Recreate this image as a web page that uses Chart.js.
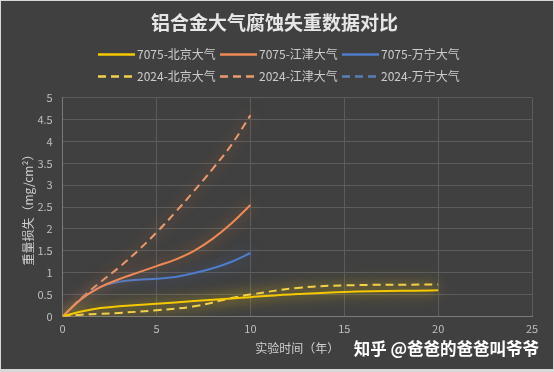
<!DOCTYPE html>
<html lang="zh">
<head>
<meta charset="UTF-8">
<title>铝合金大气腐蚀失重数据对比</title>
<script src="https://cdn.jsdelivr.net/npm/chart.js"></script>
<style>
  html, body { margin: 0; padding: 0; background: #d8d8d8; }
  #box { position: absolute; left: 1px; top: 1px; width: 552px; height: 368px; background: #404040; }
</style>
</head>
<body>
<div id="box"><canvas id="chart"></canvas></div>
<script>
// years and weight loss (mg/cm2)
const yearsBJ = [0, 1, 2, 3, 5, 7, 9, 10, 12.5, 15, 20];
const bj7075 = [0, 0.11, 0.19, 0.23, 0.29, 0.35, 0.41, 0.44, 0.51, 0.56, 0.6];
const bj2024 = [0, 0.04, 0.06, 0.08, 0.14, 0.23, 0.42, 0.5, 0.65, 0.71, 0.73];

const years10 = [0, 1, 2, 3, 4, 5, 6, 7, 8, 9, 10];
const jj7075 = [0, 0.4, 0.67, 0.85, 1.0, 1.15, 1.3, 1.5, 1.78, 2.13, 2.55];
const jj2024 = [0, 0.42, 0.78, 1.12, 1.5, 1.92, 2.38, 2.87, 3.38, 3.93, 4.6];
const wn7075 = [0, 0.4, 0.67, 0.79, 0.84, 0.86, 0.9, 0.99, 1.1, 1.25, 1.45];
const wn2024 = [];

const xTicks = [0, 5, 10, 15, 20, 25];

const pts = (xs, ys) => ys.map((y, i) => ({ x: xs[i], y: y }));
const FONT = '"Noto Sans CJK SC", "Noto Sans", sans-serif';

function line(label, xs, ys, color, glow, dashed) {
  return {
    label: label,
    data: pts(xs, ys),
    borderColor: color,
    backgroundColor: color,
    borderWidth: 2,
    borderDash: dashed ? [8, 5] : [],
    pointRadius: 0,
    tension: 0.4,
    glow: glow
  };
}

// soft glow around each line
const glowPlugin = {
  id: 'glow',
  beforeDatasetDraw(chart, args) {
    const ds = chart.data.datasets[args.index];
    chart.ctx.save();
    chart.ctx.shadowColor = ds.glow;
    chart.ctx.shadowBlur = 14;
  },
  afterDatasetDraw(chart) {
    chart.ctx.restore();
  }
};

// two-row legend, three items per row, plus watermark
const legendPlugin = {
  id: 'legend3',
  afterDraw(chart) {
    const ctx = chart.ctx;
    ctx.save();
    chart.data.datasets.forEach((ds, i) => {
      const x = 97 + (i % 3) * 122;
      const y = 53.5 + Math.floor(i / 3) * 22;
      ctx.strokeStyle = ds.borderColor;
      ctx.lineWidth = 2.5;
      ctx.setLineDash(ds.borderDash.length ? [8, 5] : []);
      ctx.beginPath();
      ctx.moveTo(x, y);
      ctx.lineTo(x + 37, y);
      ctx.stroke();
      ctx.setLineDash([]);
      ctx.fillStyle = '#cccccc';
      ctx.font = '12px ' + FONT;
      ctx.textBaseline = 'middle';
      ctx.textAlign = 'left';
      ctx.fillText(ds.label, x + 39, y);
    });
    ctx.font = 'bold 16.5px ' + FONT;
    ctx.fillStyle = '#ffffff';
    ctx.textAlign = 'right';
    ctx.textBaseline = 'middle';
    ctx.fillText('知乎 @爸爸的爸爸叫爷爷', 538, 348);
    ctx.restore();
  }
};

new Chart(document.getElementById('chart'), {
  type: 'line',
  data: {
    datasets: [
      line('7075-北京大气', yearsBJ, bj7075, '#f5c800', 'rgba(255,215,0,0.9)', false),
      line('7075-江津大气', years10, jj7075, '#ee8a55', 'rgba(237,125,49,0.7)', false),
      line('7075-万宁大气', years10, wn7075, '#4f7ccc', 'rgba(68,114,196,0.7)', false),
      line('2024-北京大气', yearsBJ, bj2024, '#f3d050', 'rgba(255,215,0,0.9)', true),
      line('2024-江津大气', years10, jj2024, '#e99a6e', 'rgba(237,125,49,0.7)', true),
      line('2024-万宁大气', years10, wn2024, '#5a7fb8', 'rgba(68,114,196,0.7)', true)
    ]
  },
  options: {
    responsive: true,
    maintainAspectRatio: false,
    animation: false,
    layout: { padding: { left: 16, right: 21, top: 0, bottom: 9 } },
    plugins: {
      legend: { display: false },
      tooltip: { enabled: false },
      title: {
        display: true,
        text: '铝合金大气腐蚀失重数据对比',
        color: '#e6e6e6',
        font: { family: FONT, size: 19, weight: 'bold' },
        padding: { top: 10, bottom: 64 }
      }
    },
    scales: {
      x: {
        type: 'linear',
        min: 0,
        max: 25,
        afterBuildTicks: axis => { axis.ticks = xTicks.map(v => ({ value: v })); },
        ticks: { color: '#bfbfbf', font: { family: FONT, size: 11 }, padding: 6 },
        grid: { color: '#5c5c5c', drawTicks: false },
        border: { color: '#7a7a7a' },
        title: {
          display: true,
          text: '实验时间（年）',
          color: '#cfcfcf',
          font: { family: FONT, size: 12 },
          padding: { top: 0, bottom: 4 }
        }
      },
      y: {
        min: 0,
        max: 5,
        ticks: {
          stepSize: 0.5,
          color: '#bfbfbf',
          font: { family: FONT, size: 11 },
          padding: 10,
          callback: v => String(Math.round(v * 10) / 10)
        },
        grid: { color: '#5c5c5c', drawTicks: false },
        border: { color: '#7a7a7a' },
        title: {
          display: true,
          text: '重量损失（mg/cm²）',
          color: '#cfcfcf',
          font: { family: FONT, size: 12 },
          padding: { top: 4, bottom: -8 }
        }
      }
    }
  },
  plugins: [glowPlugin, legendPlugin]
});
</script>
</body>
</html>
